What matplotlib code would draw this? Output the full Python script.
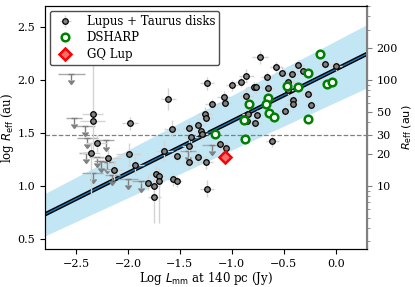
import numpy as np
import matplotlib
matplotlib.use("Agg")
import matplotlib.pyplot as plt

plt.rcParams['font.family'] = ['DejaVu Serif']

# Lupus + Taurus disks: log L_mm (Jy at 140 pc), log R_eff (au)
lt_x = [-1.61, -2.34, -2.34, -1.98, -1.58, -1.41, -1.33, -1.39, -2.30, -2.36,
        -2.19, -1.65, -1.53, -1.41, -1.41, -1.33, -1.99, -1.93, -2.13, -1.73,
        -1.70, -1.70, -1.81, -1.75, -1.745, -1.57, -1.53, -1.24, -1.00, -0.91,
        -0.79, -0.765, -0.65, -0.46, -0.27, -1.08, -1.07, -1.195, -0.86, -0.41,
        -0.415, -0.24, -0.49, -0.84, -0.755, -0.85, -0.78, -1.26, -1.245, -1.30,
        -1.285, -0.61, -1.11, -1.055, -1.245, -1.24, -0.73, -0.57, -0.36, -0.10,
        0.00, -0.86, -0.66, -0.515, -0.425, -0.31, -0.455]
lt_y = [1.82, 1.68, 1.61, 1.59, 1.54, 1.55, 1.57, 1.46, 1.40, 1.31,
        1.26, 1.33, 1.28, 1.38, 1.22, 1.27, 1.30, 1.20, 1.15, 1.11,
        1.09, 1.04, 1.03, 1.00, 0.89, 1.06, 1.04, 1.97, 1.95, 1.98,
        1.93, 1.93, 1.92, 1.91, 1.87, 1.84, 1.78, 1.77, 1.85, 1.81,
        1.77, 1.76, 1.71, 1.68, 1.67, 1.61, 1.59, 1.68, 1.64, 1.52,
        1.49, 1.42, 1.39, 1.36, 1.22, 0.97, 2.215, 2.125, 2.14, 2.15,
        2.135, 2.04, 2.025, 2.07, 2.055, 2.085, 1.98]
lt_xerr = [0.07, 0.10, 0.12, 0.08, 0.07, 0.06, 0.07, 0.06, 0.10, 0.09,
           0.12, 0.08, 0.06, 0.07, 0.06, 0.06, 0.12, 0.08, 0.08, 0.06,
           0.06, 0.05, 0.06, 0.06, 0.06, 0.05, 0.05, 0.07, 0.06, 0.06,
           0.06, 0.06, 0.06, 0.05, 0.05, 0.06, 0.06, 0.06, 0.06, 0.06,
           0.06, 0.06, 0.06, 0.06, 0.06, 0.06, 0.06, 0.07, 0.06, 0.06,
           0.06, 0.06, 0.06, 0.05, 0.06, 0.07, 0.08, 0.06, 0.06, 0.06,
           0.06, 0.07, 0.06, 0.06, 0.06, 0.06, 0.06]
lt_yerr_lo = [0.10, 0.43, 0.06, 0.06, 0.08, 0.06, 0.07, 0.06, 0.08, 0.41,
              0.08, 0.10, 0.06, 0.06, 0.06, 0.06, 0.12, 0.10, 0.10, 0.08,
              0.08, 0.39, 0.07, 0.08, 0.24, 0.06, 0.05, 0.06, 0.05, 0.05,
              0.05, 0.05, 0.05, 0.05, 0.05, 0.06, 0.05, 0.05, 0.08, 0.05,
              0.05, 0.05, 0.05, 0.05, 0.05, 0.05, 0.05, 0.06, 0.05, 0.06,
              0.06, 0.05, 0.05, 0.05, 0.06, 0.08, 0.06, 0.05, 0.05, 0.05,
              0.05, 0.06, 0.05, 0.05, 0.05, 0.05, 0.05]
lt_yerr_hi = [0.10, 0.49, 0.06, 0.06, 0.08, 0.06, 0.07, 0.06, 0.08, 0.10,
              0.08, 0.10, 0.06, 0.06, 0.06, 0.06, 0.10, 0.08, 0.08, 0.08,
              0.08, 0.10, 0.07, 0.08, 0.10, 0.06, 0.05, 0.06, 0.05, 0.05,
              0.05, 0.05, 0.05, 0.05, 0.05, 0.06, 0.05, 0.05, 0.08, 0.05,
              0.05, 0.05, 0.05, 0.05, 0.05, 0.05, 0.05, 0.06, 0.05, 0.06,
              0.06, 0.05, 0.05, 0.05, 0.06, 0.08, 0.06, 0.05, 0.05, 0.05,
              0.05, 0.06, 0.05, 0.05, 0.05, 0.05, 0.05]

# upper limits on R_eff
ul_x = [-2.545, -2.52, -2.41, -2.39, -2.21, -2.40, -2.30, -2.26, -2.20, -2.34,
        -2.15, -2.00, -1.875, -1.42, -1.19]
ul_y = [2.06, 1.64, 1.565, 1.45, 1.43, 1.31, 1.275, 1.23, 1.22, 1.12,
        1.10, 1.065, 1.04, 1.33, 1.385]
ul_xerr = [0.13, 0.08, 0.09, 0.10, 0.08, 0.07, 0.07, 0.07, 0.08, 0.10,
           0.07, 0.10, 0.09, 0.08, 0.10]

# DSHARP disks
ds_x = [-0.15, -0.27, -0.47, -0.36, -0.08, -0.04, -0.65, -0.83, -0.67, -0.64,
        -0.59, -0.885, -0.27, -1.16, -0.875]
ds_y = [2.25, 2.065, 1.94, 1.93, 1.96, 1.98, 1.83, 1.77, 1.77, 1.69,
        1.65, 1.62, 1.63, 1.49, 1.44]

# GQ Lup
gq_x = [-1.065]
gq_y = [1.267]

# size-luminosity relation and its spread
fit_slope, fit_icpt = 0.49, 2.10
band_hi = (0.516, 2.37)
band_lo = (0.452, 1.79)

r_ticks = [10, 20, 30, 50, 100, 200]

fig = plt.figure(figsize=(4.15, 2.87), dpi=100)
ax = fig.add_axes([0.108, 0.132, 0.776, 0.847])

xx = np.linspace(-2.8, 0.3, 50)
ax.fill_between(xx, band_lo[0] * xx + band_lo[1], band_hi[0] * xx + band_hi[1],
                color='skyblue', alpha=0.5, lw=0, zorder=1)
ax.plot(xx, fit_slope * xx + fit_icpt, color='black', lw=3, zorder=2)
ax.plot(xx, fit_slope * xx + fit_icpt, color='#1f77b4', lw=1, zorder=2)
ax.axhline(np.log10(30), color='gray', ls='--', lw=0.9, zorder=1.5)

ax.errorbar(ul_x, ul_y, xerr=ul_xerr, fmt='none', ecolor='darkgray', elinewidth=1, zorder=3)
ax.errorbar(ul_x, ul_y, yerr=0.06, uplims=True, fmt='none', ecolor='gray', color='gray',
            elinewidth=1, capsize=2, zorder=3)

h1 = ax.errorbar(lt_x, lt_y, xerr=lt_xerr, yerr=[lt_yerr_lo, lt_yerr_hi], fmt='o',
                 mfc='gray', mec='black', ms=4, mew=0.9, ecolor='lightgray', elinewidth=1,
                 zorder=4, label='Lupus + Taurus disks')
h2, = ax.plot(ds_x, ds_y, 'o', mfc='white', mec='green', ms=5.5, mew=1.8, ls='none',
              zorder=5, label='DSHARP')
h3, = ax.plot(gq_x, gq_y, 'D', mfc='#f07070', mec='red', ms=6.5, mew=1.8, ls='none',
              zorder=6, label='GQ Lup')

ax.set_xlim(-2.8, 0.3)
ax.set_ylim(0.4, 2.7)
ax.set_xticks([-2.5, -2.0, -1.5, -1.0, -0.5, 0.0])
ax.set_yticks([0.5, 1.0, 1.5, 2.0, 2.5])
ax.tick_params(labelsize=8)
ax.set_xlabel(r'Log $L_{\rm mm}$ at 140 pc (Jy)', fontsize=8.5, labelpad=1)
ax.set_ylabel(r'log $R_{\rm eff}$ (au)', fontsize=8.5, labelpad=1)

ax.legend(handles=[h1, h2, h3], loc='upper left', fontsize=8.5, framealpha=1,
          edgecolor='0.3', borderaxespad=0.4, handletextpad=0.8, borderpad=0.35,
          labelspacing=0.3)

ax2 = ax.twinx()
ax2.set_yscale('log')
ax2.set_ylim(10 ** 0.4, 10 ** 2.7)
ax2.set_yticks(r_ticks)
ax2.set_yticklabels([str(t) for t in r_ticks])
ax2.yaxis.set_minor_formatter(matplotlib.ticker.NullFormatter())
ax2.spines['right'].set_color('gray')
ax2.spines['right'].set_linewidth(1.5)
ax2.tick_params(axis='y', which='both', colors='gray', labelcolor='black', labelsize=8)
ax2.set_ylabel(r'$R_{\rm eff}$ (au)', fontsize=8, family='DejaVu Sans', labelpad=2)

fig.savefig('out.png', dpi=100)
